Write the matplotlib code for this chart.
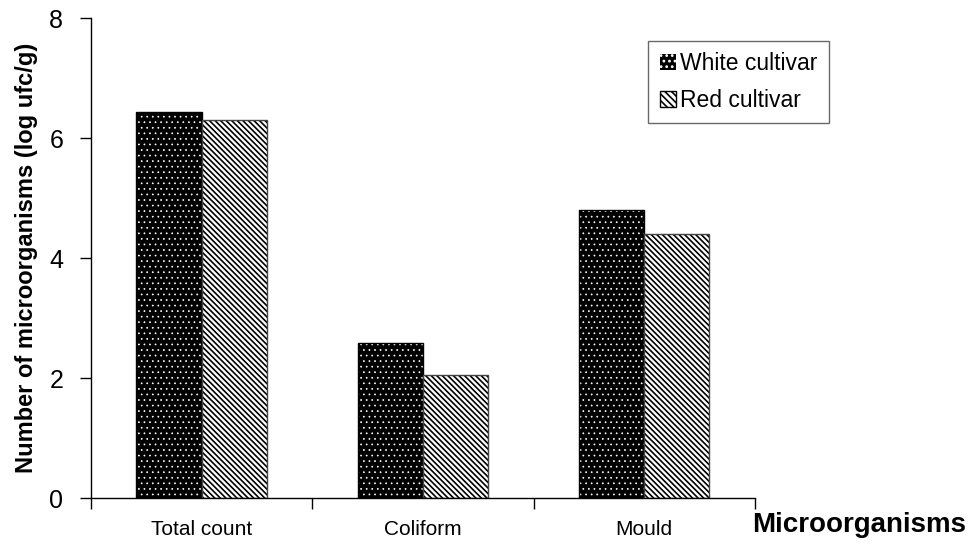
import numpy as np
import matplotlib.pyplot as plt
from matplotlib.patches import Patch

categories = ["Total count", "Coliform", "Mould"]
white_cultivar = [6.43, 2.58, 4.80]
red_cultivar = [6.30, 2.05, 4.40]

plt.rcParams['font.family'] = ['Liberation Sans', 'DejaVu Sans']

fig = plt.figure(figsize=(9.79, 5.48), dpi=100)
ax = fig.add_axes([0.093, 0.091, 0.678, 0.876])

x = np.arange(len(categories))
w = 0.295

# white cultivar: black with small white dots
plt.rcParams['hatch.linewidth'] = 0.5
ax.bar(x - w/2, white_cultivar, w, color='black', edgecolor='white',
       hatch='...', linewidth=0)
ax.bar(x - w/2, white_cultivar, w, fill=False, edgecolor='black', linewidth=1)
dot_handle = Patch(facecolor='black', edgecolor='white', hatch='...', linewidth=0)

# red cultivar: dense diagonal stripes
plt.rcParams['hatch.linewidth'] = 1.2
ax.bar(x + w/2, red_cultivar, w, color='white', edgecolor='black',
       hatch='\\\\\\\\\\\\', linewidth=0)
ax.bar(x + w/2, red_cultivar, w, fill=False, edgecolor='#444444', linewidth=1)
stripe_handle = Patch(facecolor='white', edgecolor='black', hatch='\\\\\\\\\\')

ax.set_xlim(-0.5, 2.5)
ax.set_ylim(0, 8)
ax.set_yticks([0, 2, 4, 6, 8])
ax.tick_params(axis='y', labelsize=18, length=8, width=1, direction='out', pad=12)

ax.set_xticks([-0.5, 0.5, 1.5, 2.5])
ax.set_xticklabels([])
ax.set_xticks(x, minor=True)
ax.set_xticklabels(categories, minor=True, fontsize=15)
ax.tick_params(axis='x', which='major', length=8, width=1, direction='out')
ax.tick_params(axis='x', which='minor', length=0, pad=16)

for s in ['top', 'right']:
    ax.spines[s].set_visible(False)
ax.spines['left'].set_linewidth(1)
ax.spines['bottom'].set_linewidth(1)

ax.set_ylabel("Number of microorganisms (log ufc/g)", fontsize=17,
              fontweight='bold', labelpad=8)
fig.text(0.768, 0.03, "Microorganisms", fontsize=20, fontweight='bold')

leg = ax.legend([dot_handle, stripe_handle], ["White cultivar", "Red cultivar"],
                loc='upper left', bbox_to_anchor=(0.822, 0.977),
                fontsize=16.5, fancybox=False, edgecolor='#444444',
                handlelength=0.7, handleheight=0.7, handletextpad=0.2,
                labelspacing=0.6, borderpad=0.5)
leg.get_frame().set_linewidth(1)

fig.savefig("out.png", dpi=100)
